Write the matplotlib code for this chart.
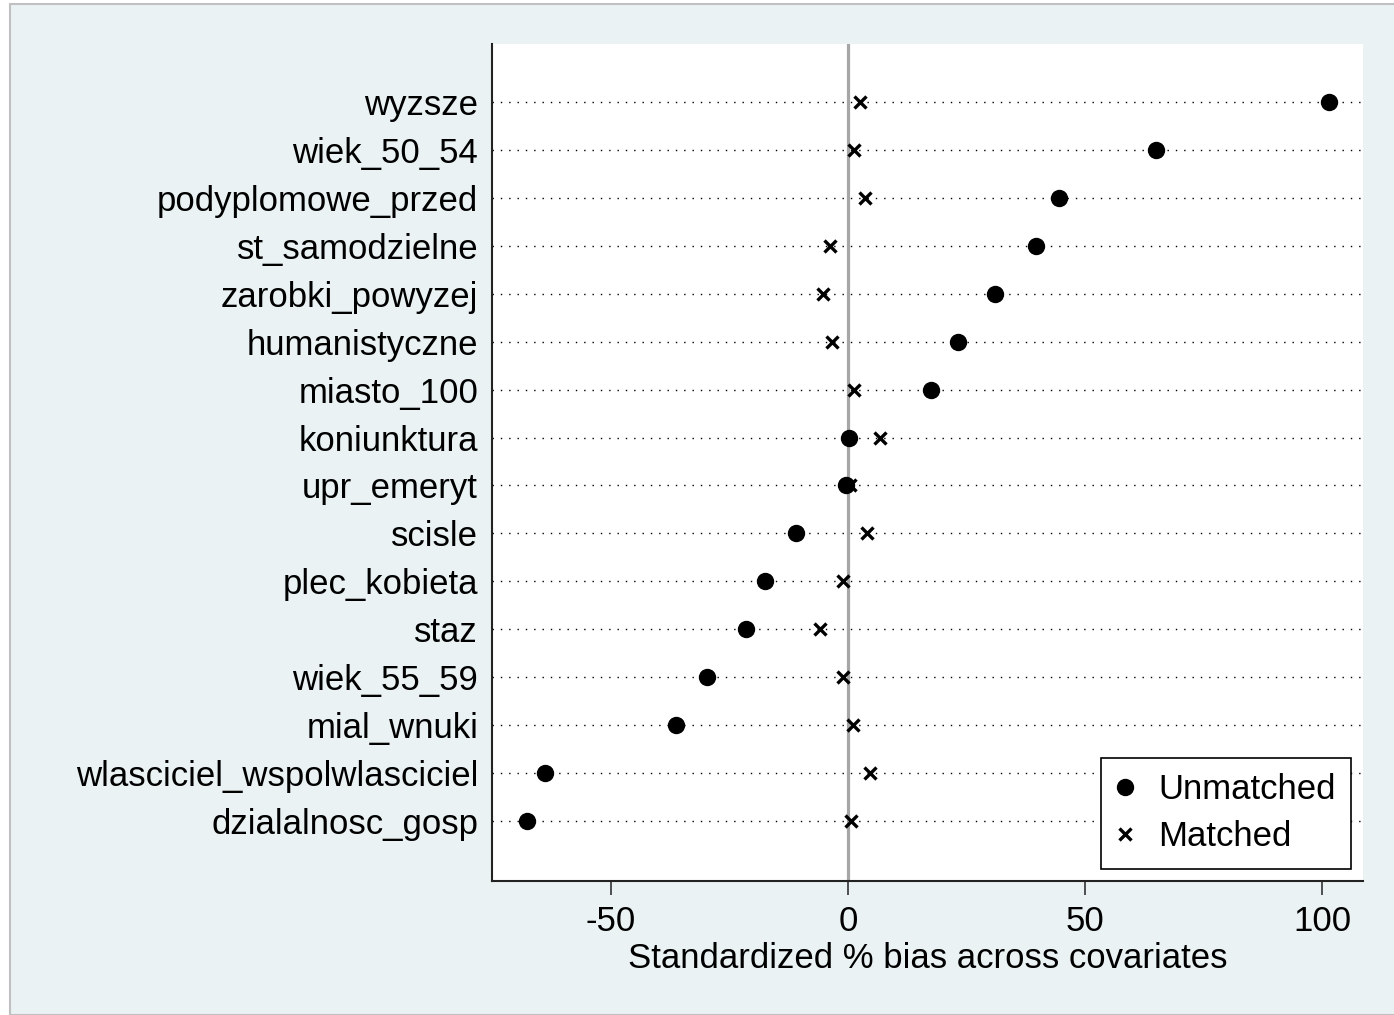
import matplotlib
matplotlib.use("Agg")
import matplotlib.pyplot as plt
from matplotlib.patches import Rectangle

categories = ["wyzsze", "wiek_50_54", "podyplomowe_przed", "st_samodzielne",
              "zarobki_powyzej", "humanistyczne", "miasto_100", "koniunktura",
              "upr_emeryt", "scisle", "plec_kobieta", "staz", "wiek_55_59",
              "mial_wnuki", "wlasciciel_wspolwlasciciel", "dzialalnosc_gosp"]
unmatched = [101.5, 65.0, 44.5, 39.7, 31.0, 23.2, 17.5, 0.2,
             -0.4, -11.0, -17.5, -21.5, -29.7, -36.3, -63.9, -67.7]
matched = [2.5, 1.3, 3.6, -3.8, -5.3, -3.4, 1.3, 6.8,
           0.4, 4.0, -1.1, -5.9, -1.1, 1.1, 4.6, 0.6]
xticks = [-50, 0, 50, 100]

plt.rcParams['font.family'] = ['Liberation Sans', 'DejaVu Sans']
FS = 25

W, H = 1394, 1015
fig = plt.figure(figsize=(W / 100, H / 100), dpi=100)
fig.patch.set_facecolor("white")
fig.patches.append(Rectangle((10 / W, 0), 1, 1 - 4 / H, transform=fig.transFigure,
                             facecolor="#eaf2f3", edgecolor="#c0c0c0", linewidth=1.5,
                             zorder=-10))

ax = fig.add_axes([492 / W, 1 - 881 / H, (1363 - 492) / W, (881 - 44) / H])
ax.set_facecolor("white")

n = len(categories)
ypos = [n - i for i in range(n)]

for y in ypos:
    ax.axhline(y, color="black", linestyle=(0, (1, 5)), linewidth=1.0, zorder=1)
ax.axvline(0, color="#a6a6a6", linewidth=2.3, zorder=2)

ax.plot(unmatched, ypos, linestyle="none", marker="o", markersize=11.5,
        color="black", label="Unmatched", zorder=3)
ax.plot(matched, ypos, linestyle="none", marker="x", markersize=9,
        markeredgewidth=2.4, color="black", label="Matched", zorder=3)

ax.set_xlim(-75.1, 108.6)
ax.set_ylim(-0.252, 17.21)
ax.set_yticks(ypos)
ax.set_yticklabels(categories, fontsize=FS)
ax.set_xticks(xticks)
ax.set_xticklabels([str(t) for t in xticks], fontsize=FS)
ax.tick_params(axis="y", length=0, pad=10)
ax.tick_params(axis="x", length=10, width=1.2, pad=7, color="#333333")
ax.set_xlabel("Standardized % bias across covariates", fontsize=FS, labelpad=3)

for s in ["top", "right"]:
    ax.spines[s].set_visible(False)
for s in ["left", "bottom"]:
    ax.spines[s].set_linewidth(1.5)
    ax.spines[s].set_color("#222222")

leg = ax.legend(loc="lower right", bbox_to_anchor=(1351 / W, 1 - 869 / H),
                bbox_transform=fig.transFigure, fontsize=FS, frameon=True,
                fancybox=False, edgecolor="black", framealpha=1,
                borderpad=0.45, labelspacing=0.4, handletextpad=0.7,
                handlelength=0.5, borderaxespad=0)
leg.get_frame().set_linewidth(1.2)

fig.savefig("out.png", dpi=100, facecolor=fig.get_facecolor())
